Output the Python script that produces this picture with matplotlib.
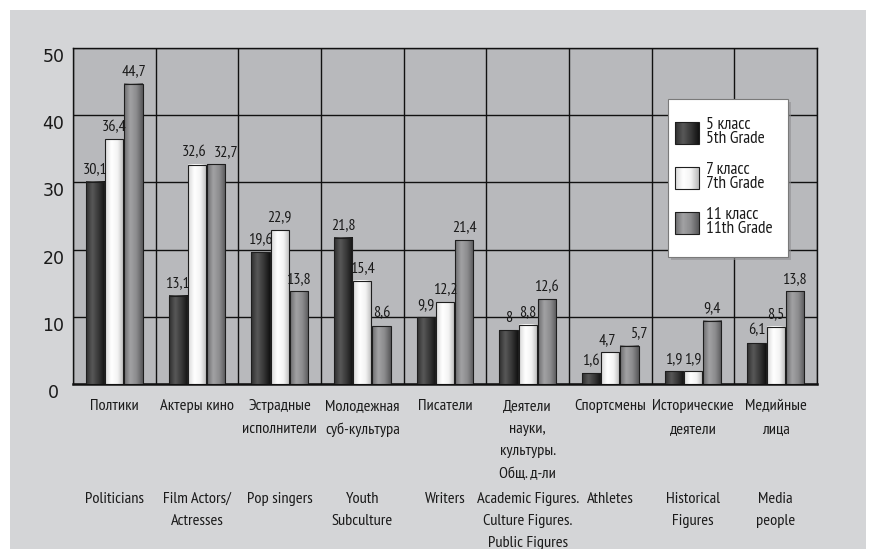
import numpy as np
import matplotlib
matplotlib.use("Agg")
import matplotlib.pyplot as plt
from matplotlib import font_manager
from matplotlib.colors import LinearSegmentedColormap
from matplotlib.patches import Rectangle
from matplotlib.transforms import ScaledTranslation

# ---------------- data ----------------
cat_ru = ["Полтики", "Актеры кино", "Эстрадные\nисполнители", "Молодежная\nсуб-культура",
          "Писатели", "Деятели\nнауки,\nкультуры.\nОбщ. д-ли", "Спортсмены",
          "Исторические\nдеятели", "Медийные\nлица"]
cat_en = ["Politicians", "Film Actors/\nActresses", "Pop singers", "Youth\nSubculture",
          "Writers", "Academic Figures.\nCulture Figures.\nPublic Figures", "Athletes",
          "Historical\nFigures", "Media\npeople"]
series_names = ["5 класс\n5th Grade", "7 класс\n7th Grade", "11 класс\n11th Grade"]
grade5 = [30.1, 13.1, 19.6, 21.8, 9.9, 8.0, 1.6, 1.9, 6.1]
grade7 = [36.4, 32.6, 22.9, 15.4, 12.2, 8.8, 4.7, 1.9, 8.5]
grade11 = [44.7, 32.7, 13.8, 8.6, 21.4, 12.6, 5.7, 9.4, 13.8]
yticks = [0, 10, 20, 30, 40, 50]

# ---------------- fonts ----------------
names = {f.name for f in font_manager.fontManager.ttflist}
prefs = ["PT Sans Narrow", "Fira Sans Condensed", "Roboto Condensed", "Open Sans Condensed",
         "Ubuntu Condensed", "IBM Plex Sans Condensed", "Liberation Sans Narrow"]
COND = [p for p in prefs if p in names][:1] + ["DejaVu Sans"]
plt.rcParams["font.family"] = COND

# ---------------- style ----------------
OUTER_BG = "#d4d5d7"
PLOT_BG = "#b8b9bc"
cmaps = [
    LinearSegmentedColormap.from_list("d", ["#2e2e2e", "#585858", "#383838", "#121212"]),
    LinearSegmentedColormap.from_list("w", ["#d8d8d8", "#ffffff", "#f4f4f4", "#bababa"]),
    LinearSegmentedColormap.from_list("g", ["#6c6c6e", "#a2a2a4", "#8b8b8d", "#58585a"]),
]
grad = np.linspace(0, 1, 64).reshape(1, -1)

W, H = 878, 549
fig = plt.figure(figsize=(W / 100, H / 100), dpi=100)
fig.patch.set_facecolor("white")
fig.patches.append(Rectangle((10 / W, 0), (866 - 10) / W, (H - 10) / H,
                             transform=fig.transFigure, facecolor=OUTER_BG,
                             edgecolor="none", zorder=-10))

L, R, T, B = 73, 817, 48, 384
ax = fig.add_axes([L / W, 1 - B / H, (R - L) / W, (B - T) / H])
ax.set_zorder(1)
ax.set_facecolor(PLOT_BG)

n = len(cat_ru)
x = np.arange(n)
bw = 0.22
gap = 0.012
offsets = [-(bw + gap), 0, (bw + gap)]
series = [grade5, grade7, grade11]

for s, (vals, off) in enumerate(zip(series, offsets)):
    for i, (xi, v) in enumerate(zip(x, vals)):
        x0 = xi + off - bw / 2
        ax.imshow(grad, cmap=cmaps[s], extent=(x0, x0 + bw, 0, v),
                  aspect="auto", zorder=3, interpolation="bicubic")
        ax.add_patch(Rectangle((x0, 0), bw, v, fill=False, edgecolor="#1e1e1e",
                               linewidth=0.8, zorder=4))
        lab = f"{v:g}".replace(".", ",")
        # avoid collision of two neighbouring labels of equal height
        nudge = 0
        if s == 2 and abs(v - series[1][i]) < 1.5:
            nudge = 7
        if s == 1 and abs(v - series[2][i]) < 1.5:
            nudge = -2
        ax.annotate(lab, (xi + off, v), xytext=(nudge, 4), textcoords="offset points",
                    ha="center", va="bottom", fontsize=11.5, color="#1a1a1a", zorder=5)

ax.set_xlim(-0.5, n - 0.5)
ax.set_ylim(0, 50)

# grid
for yv in yticks:
    ax.axhline(yv, color="#111111", linewidth=1.0, zorder=1)
for k in range(n + 1):
    ax.axvline(k - 0.5, color="#111111", linewidth=1.0, zorder=1)
for sp in ax.spines.values():
    sp.set_color("#111111")
    sp.set_linewidth(1.0)
ax.spines["bottom"].set_linewidth(1.8)

ax.set_xticks([])
ax.set_yticks(yticks)
ax.set_yticklabels([str(t) for t in yticks], fontsize=12.5, color="#1a1a1a",
                   family=["DejaVu Sans"])
ax.tick_params(axis="y", length=0, pad=14)
for lbl in ax.get_yticklabels():
    lbl.set_horizontalalignment("center")
    lbl.set_transform(lbl.get_transform() + ScaledTranslation(0, -7 / 100, fig.dpi_scale_trans))

# category labels
tr = ax.get_xaxis_transform()
y_ru = -(407 - 8 - B) / (B - T)
y_en = -(497 - 5 - B) / (B - T)
for xi, ru, en in zip(x, cat_ru, cat_en):
    ax.text(xi, y_ru, ru, transform=tr, ha="center", va="top", fontsize=11.8,
            linespacing=1.78, color="#1a1a1a")
    ax.text(xi, y_en, en, transform=tr, ha="center", va="top", fontsize=11.8,
            linespacing=1.75, color="#1a1a1a")

# legend (manual)
def fx(px):
    return (px - L) / (R - L)

def fy(py):
    return (B - py) / (B - T)

ax.add_patch(Rectangle((fx(671), fy(260)), fx(791) - fx(671), fy(102) - fy(260),
                       transform=ax.transAxes, facecolor="#8f8f91", edgecolor="none",
                       alpha=0.6, zorder=6, clip_on=False))
ax.add_patch(Rectangle((fx(668), fy(257)), fx(788) - fx(668), fy(99) - fy(257),
                       transform=ax.transAxes, facecolor="white", edgecolor="#7a7a7a",
                       linewidth=0.8, zorder=7, clip_on=False))
patch_tops = [122, 167, 212]
for s, (pt, name) in enumerate(zip(patch_tops, series_names)):
    ax.imshow(grad, cmap=cmaps[s], extent=(fx(675), fx(699), fy(pt + 22), fy(pt)),
              transform=ax.transAxes, aspect="auto", zorder=8, interpolation="bicubic")
    ax.add_patch(Rectangle((fx(675), fy(pt + 22)), fx(699) - fx(675), fy(pt) - fy(pt + 22),
                           transform=ax.transAxes, fill=False, edgecolor="#1e1e1e",
                           linewidth=0.8, zorder=9))
    ax.text(fx(706), fy(pt + 10), name, transform=ax.transAxes, ha="left", va="center",
            fontsize=12.5, linespacing=0.85, color="#1a1a1a", zorder=9)

ax.set_xlim(-0.5, n - 0.5)
ax.set_ylim(0, 50)

fig.savefig("out.png", dpi=100, facecolor=fig.get_facecolor())
